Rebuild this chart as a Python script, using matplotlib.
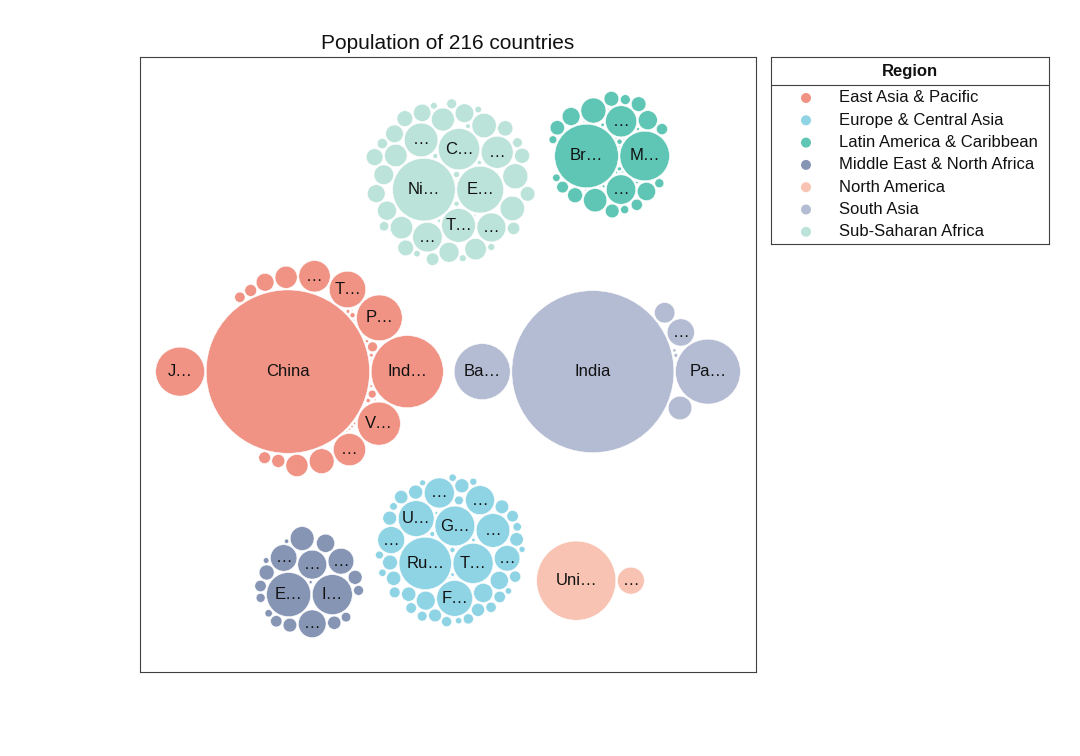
import numpy as np
import matplotlib
matplotlib.use("Agg")
import matplotlib.pyplot as plt
from matplotlib.patches import Circle

plt.rcParams['font.family'] = ['Liberation Sans', 'DejaVu Sans']

# ---------------- data (population 2020, millions) ----------------
regions = ["East Asia & Pacific", "Europe & Central Asia", "Latin America & Caribbean",
           "Middle East & North Africa", "North America", "South Asia", "Sub-Saharan Africa"]
region_colors = ["#F09385", "#8FD4E5", "#5FC5B5", "#8795B5", "#F8C3B2", "#B4BCD3", "#BCE3D9"]

eap_names = ["American Samoa", "Australia", "Brunei Darussalam", "Cambodia", "China", "Fiji",
             "French Polynesia", "Guam", "Hong Kong SAR, China", "Indonesia", "Japan", "Kiribati",
             "Korea, Dem. People's Rep.", "Korea, Rep.", "Lao PDR", "Macao SAR, China", "Malaysia",
             "Marshall Islands", "Micronesia, Fed. Sts.", "Mongolia", "Myanmar", "Nauru",
             "New Caledonia", "New Zealand", "Northern Mariana Islands", "Palau", "Papua New Guinea",
             "Philippines", "Samoa", "Singapore", "Solomon Islands", "Thailand", "Timor-Leste",
             "Tonga", "Tuvalu", "Vanuatu", "Vietnam"]
eap_pop = [0.055, 25.69, 0.437, 16.72, 1402.1, 0.896, 0.281, 0.169, 7.48, 273.5, 125.8, 0.119,
           25.78, 51.84, 7.28, 0.649, 32.37, 0.059, 0.115, 3.28, 54.41, 0.0108, 0.272, 5.09,
           0.058, 0.018, 8.95, 109.6, 0.198, 5.69, 0.687, 69.80, 1.32, 0.106, 0.0118, 0.307, 97.34]

eca_names = ["Albania", "Andorra", "Armenia", "Austria", "Azerbaijan", "Belarus", "Belgium",
             "Bosnia and Herzegovina", "Bulgaria", "Channel Islands", "Croatia", "Cyprus",
             "Czech Republic", "Denmark", "Estonia", "Faroe Islands", "Finland", "France", "Georgia",
             "Germany", "Gibraltar", "Greece", "Greenland", "Hungary", "Iceland", "Ireland",
             "Isle of Man", "Italy", "Kazakhstan", "Kosovo", "Kyrgyz Republic", "Latvia",
             "Liechtenstein", "Lithuania", "Luxembourg", "Moldova", "Monaco", "Montenegro",
             "Netherlands", "North Macedonia", "Norway", "Poland", "Portugal", "Romania",
             "Russian Federation", "San Marino", "Serbia", "Slovak Republic", "Slovenia", "Spain",
             "Sweden", "Switzerland", "Tajikistan", "Turkey", "Turkmenistan", "Ukraine",
             "United Kingdom", "Uzbekistan"]
eca_pop = [2.838, 0.077, 2.963, 8.917, 10.09, 9.379, 11.54, 3.281, 6.934, 0.174, 4.047, 1.207,
           10.70, 5.831, 1.331, 0.049, 5.530, 67.39, 3.714, 83.24, 0.034, 10.70, 0.056, 9.750,
           0.366, 4.994, 0.085, 59.55, 18.75, 1.775, 6.592, 1.901, 0.039, 2.795, 0.632, 2.620,
           0.039, 0.622, 17.44, 2.072, 5.379, 37.95, 10.31, 19.29, 144.1, 0.034, 6.908, 5.459,
           2.102, 47.35, 10.35, 8.637, 9.538, 84.34, 6.031, 44.13, 67.22, 34.23]

lac_names = ["Antigua and Barbuda", "Argentina", "Aruba", "Bahamas, The", "Barbados", "Belize",
             "Bolivia", "Brazil", "British Virgin Islands", "Cayman Islands", "Chile", "Colombia",
             "Costa Rica", "Cuba", "Curacao", "Dominica", "Dominican Republic", "Ecuador",
             "El Salvador", "Grenada", "Guatemala", "Guyana", "Haiti", "Honduras", "Jamaica",
             "Mexico", "Nicaragua", "Panama", "Paraguay", "Peru", "Puerto Rico",
             "Sint Maarten (Dutch part)", "St. Kitts and Nevis", "St. Lucia",
             "St. Martin (French part)", "St. Vincent and the Grenadines", "Suriname",
             "Trinidad and Tobago", "Turks and Caicos Islands", "Uruguay", "Venezuela, RB",
             "Virgin Islands (U.S.)"]
lac_pop = [0.098, 45.38, 0.107, 0.393, 0.287, 0.398, 11.67, 212.6, 0.030, 0.066, 19.12, 50.88,
           5.094, 11.33, 0.155, 0.072, 10.85, 17.64, 6.486, 0.113, 16.86, 0.787, 11.40, 9.905,
           2.961, 128.9, 6.625, 4.315, 7.133, 32.97, 3.194, 0.043, 0.053, 0.184, 0.039, 0.111,
           0.587, 1.399, 0.039, 3.474, 28.44, 0.106]

mena_names = ["Algeria", "Bahrain", "Djibouti", "Egypt, Arab Rep.", "Iran, Islamic Rep.", "Iraq",
              "Israel", "Jordan", "Kuwait", "Lebanon", "Libya", "Malta", "Morocco", "Oman", "Qatar",
              "Saudi Arabia", "Syrian Arab Republic", "Tunisia", "United Arab Emirates",
              "West Bank and Gaza", "Yemen, Rep."]
mena_pop = [43.85, 1.702, 0.988, 102.3, 83.99, 40.22, 9.216, 10.20, 4.271, 6.825, 6.871, 0.515,
            36.91, 5.107, 2.881, 34.81, 17.50, 11.82, 9.890, 4.803, 29.83]

na_names = ["Bermuda", "Canada", "United States"]
na_pop = [0.064, 38.04, 329.5]

sa_names = ["Afghanistan", "Bangladesh", "Bhutan", "India", "Maldives", "Nepal", "Pakistan",
            "Sri Lanka"]
sa_pop = [38.93, 164.7, 0.772, 1380.0, 0.541, 29.14, 220.9, 21.92]

ssa_names = ["Angola", "Benin", "Botswana", "Burkina Faso", "Burundi", "Cabo Verde", "Cameroon",
             "Central African Republic", "Chad", "Comoros", "Congo, Dem. Rep.", "Congo, Rep.",
             "Cote d'Ivoire", "Equatorial Guinea", "Eswatini", "Ethiopia", "Gabon", "Gambia, The",
             "Ghana", "Guinea", "Guinea-Bissau", "Kenya", "Lesotho", "Liberia", "Madagascar",
             "Malawi", "Mali", "Mauritania", "Mauritius", "Mozambique", "Namibia", "Niger",
             "Nigeria", "Rwanda", "Sao Tome and Principe", "Senegal", "Seychelles", "Sierra Leone",
             "Somalia", "South Africa", "South Sudan", "Sudan", "Tanzania", "Togo", "Uganda",
             "Zambia", "Zimbabwe"]
ssa_pop = [32.87, 12.12, 2.352, 20.90, 11.89, 0.556, 26.55, 4.830, 16.43, 0.870, 89.56, 5.518,
           26.38, 1.403, 1.160, 114.96, 2.226, 2.417, 31.07, 13.13, 1.968, 53.77, 2.142, 5.058,
           27.69, 19.13, 20.25, 4.650, 1.266, 31.26, 2.541, 24.21, 206.1, 12.95, 0.219, 16.74,
           0.098, 7.977, 15.89, 59.31, 11.19, 43.85, 59.73, 8.279, 45.74, 18.38, 14.86]

group_names = [eap_names, eca_names, lac_names, mena_names, na_names, sa_names, ssa_names]
group_pops = [eap_pop, eca_pop, lac_pop, mena_pop, na_pop, sa_pop, ssa_pop]

title_text = "Population of %d countries" % sum(len(p) for p in group_pops)

# layout hints for the group-level packing (preferred side, degrees)
group_side_hint = {"Europe & Central Asia": 270, "Latin America & Caribbean": 45,
                   "Middle East & North Africa": 225, "North America": 315}


# ---------------- bubble-cloud layout ----------------
def tangent_points(A, ra, B, rb, rc, pad):
    da = ra + rc + pad
    db = rb + rc + pad
    D = B - A
    d = np.hypot(D[..., 0], D[..., 1])
    x = (da ** 2 - db ** 2 + d ** 2) / (2 * d)
    h2 = da ** 2 - x ** 2
    u = D / d[..., None]
    perp = np.stack([-u[..., 1], u[..., 0]], axis=-1)
    h = np.sqrt(np.clip(h2, 0, None))
    base = A + u * x[..., None]
    return base + perp * h[..., None], base - perp * h[..., None], h2 >= 0


def pack(radii, pad, hints=None):
    r = np.asarray(radii, float)
    n = len(r)
    P = np.zeros((n, 2))
    if n == 1:
        return P
    P[1] = [r[0] + r[1] + pad, 0.0]
    if n == 2:
        return P
    if r[1] < 0.5 * r[0]:
        P[2] = [-(r[0] + r[2] + pad), 0.0]
    else:
        c1, c2, ok = tangent_points(P[0:1], r[0:1], P[1:2], r[1:2], r[2], pad)
        P[2] = c1[0]
    for i in range(3, n):
        pts, rr = P[:i], r[:i]
        w = rr ** 2
        cen = (pts * w[:, None]).sum(0) / w.sum()
        ia, ib = np.triu_indices(i, 1)
        c1, c2, ok = tangent_points(pts[ia], rr[ia], pts[ib], rr[ib], r[i], pad)
        C = np.vstack([c1[ok], c2[ok]])
        dist = np.hypot(C[:, None, 0] - pts[None, :, 0], C[:, None, 1] - pts[None, :, 1])
        valid = np.all(dist >= rr[None, :] + r[i] + pad - 1e-7, axis=1)
        C = C[valid]
        s = np.hypot(C[:, 0] - cen[0], C[:, 1] - cen[1])
        if hints is not None and hints[i] is not None:
            ang = np.arctan2(C[:, 1] - cen[1], C[:, 0] - cen[0])
            s = s * (1 + 0.6 * (1 - np.cos(ang - np.deg2rad(hints[i]))))
        P[i] = C[np.argmin(s)]
    return P


def enclose(P, r):
    c = P[np.argmax(r)].copy()
    for t in range(4000):
        v = P - c
        nv = np.hypot(v[:, 0], v[:, 1])
        k = np.argmax(nv + r)
        dirv = v[k] / nv[k] if nv[k] > 1e-12 else np.array([1.0, 0.0])
        far = P[k] + dirv * r[k]
        c = c + (far - c) / (t + 2)
    R = np.max(np.hypot(*(P - c).T) + r)
    return c, R


bubble_pad = 0.75
group_pad = 5.0

clusters = []
for gi, (names, pops) in enumerate(zip(group_names, group_pops)):
    pops = np.asarray(pops, float)
    order = np.argsort(-pops, kind="stable")
    rad = np.sqrt(pops[order])
    P = pack(rad, bubble_pad)
    c, R = enclose(P, rad)
    clusters.append(dict(gi=gi, names=[names[j] for j in order], pops=pops[order],
                         r=rad, P=P - c, R=R, total=pops.sum()))

gorder = sorted(range(len(clusters)), key=lambda k: -clusters[k]["total"])
G = pack([clusters[k]["R"] for k in gorder], group_pad,
         hints=[group_side_hint.get(regions[clusters[k]["gi"]]) for k in gorder])
for pos, k in zip(G, gorder):
    clusters[k]["P"] = clusters[k]["P"] + pos

allx = np.concatenate([c["P"][:, 0] for c in clusters])
ally = np.concatenate([c["P"][:, 1] for c in clusters])
allr = np.concatenate([c["r"] for c in clusters])
xmin, xmax = (allx - allr).min(), (allx + allr).max()
ymin, ymax = (ally - allr).min(), (ally + allr).max()
cx, cy = (xmin + xmax) / 2, (ymin + ymax) / 2

# ---------------- drawing ----------------
W, H = 1080, 756
AX_W, AX_H = 616, 615
px_per_unit = 2.181          # bubble scale (pixels per sqrt(million))
fig = plt.figure(figsize=(W / 100, H / 100), dpi=100)
ax = fig.add_axes([140 / W, 1 - 672 / H, AX_W / W, AX_H / H])
ax.set_xlim(cx - AX_W / 2 / px_per_unit, cx + AX_W / 2 / px_per_unit)
ax.set_ylim(cy - AX_H / 2 / px_per_unit, cy + AX_H / 2 / px_per_unit)
ax.set_xticks([])
ax.set_yticks([])
for sp in ax.spines.values():
    sp.set_color("#404040")
    sp.set_linewidth(0.8)
ax.set_title(title_text, fontsize=15, pad=6, color="#111111")


def fit_label(name, diam_px):
    if diam_px < 25.3:
        return None
    n = int(np.floor((diam_px - 16.39) / 17.3)) if diam_px >= 33.69 else 0
    if n >= len(name):
        return name
    return name[:max(n, 0)].rstrip() + "\u2026"


for c in clusters:
    col = region_colors[c["gi"]]
    for name, (x, y), r in zip(c["names"], c["P"], c["r"]):
        ax.add_patch(Circle((x, y), r, facecolor=col, edgecolor="white", linewidth=0.4))
        lab = fit_label(name, 2 * r * px_per_unit)
        if lab:
            ax.text(x, y, lab, ha="center", va="center", fontsize=12, color="#111111")

# legend
lax = fig.add_axes([771 / W, 1 - 244 / H, 278 / W, 187 / H])
lax.set_xlim(0, 278)
lax.set_ylim(187, 0)
lax.set_xticks([])
lax.set_yticks([])
for sp in lax.spines.values():
    sp.set_color("#404040")
    sp.set_linewidth(0.8)
lax.text(139, 14.5, "Region", ha="center", va="center", fontsize=12, fontweight="bold",
         color="#111111")
lax.plot([0, 278], [27.5, 27.5], color="#404040", linewidth=0.8)
row_y = 41 + 22.3 * np.arange(len(regions))
lax.scatter(np.full(len(regions), 35.0), row_y, s=52, c=region_colors, edgecolors="none")
for yy, name in zip(row_y, regions):
    lax.text(68, yy, name, ha="left", va="center", fontsize=12, color="#111111")

fig.savefig("out.png", dpi=100)
